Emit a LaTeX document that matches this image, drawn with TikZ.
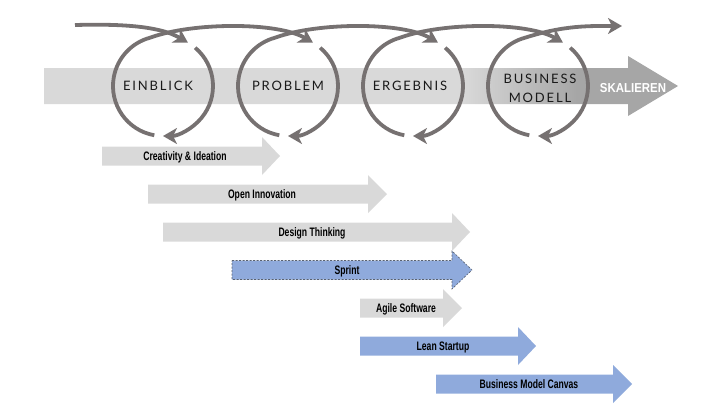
\documentclass[tikz,border=0pt]{standalone}
\usepackage{fontspec}
\setmainfont{Liberation Sans}
\newfontfamily\toplabfont[LetterSpace=14]{Lato}
\newfontfamily\condfont[FakeStretch=0.7]{Liberation Sans}
\newfontfamily\skalfont[FakeStretch=0.88]{Liberation Sans}
\usetikzlibrary{arrows.meta}
\definecolor{lgray}{HTML}{D9D9D9}
\definecolor{dgray}{HTML}{A6A6A6}
\definecolor{ringgray}{HTML}{767171}
\definecolor{mgray}{HTML}{D9D9D9}
\definecolor{mblue}{HTML}{8FAADC}
\definecolor{dashgray}{HTML}{5A6270}
\pgfdeclarehorizontalshading{bigshade}{100bp}{color(0bp)=(lgray); color(58bp)=(lgray); color(67bp)=(dgray); color(100bp)=(dgray)}
\newcommand\methodarrow[5]{%
  \path[#1] ({#2},{#5-9.5}) -- ({#3},{#5-9.5}) -- ({#3},{#5-19}) -- ({#4},{#5})
    -- ({#3},{#5+19}) -- ({#3},{#5+9.5}) -- ({#2},{#5+9.5}) -- cycle;}
\begin{document}
\begin{tikzpicture}[x=1pt,y=-1pt,
  ring/.style={draw=ringgray, line width=3.8pt},
  ringtip/.style={-{Stealth[length=14pt,width=16pt,inset=4pt]}},
  toplab/.style={font=\toplabfont\fontsize{13}{19}\selectfont, text=black!90, align=center, inner sep=0pt},
  skallab/.style={font=\skalfont\bfseries\fontsize{13}{15}\selectfont, text=white, inner sep=0pt},
  mlab/.style={font=\condfont\bfseries\fontsize{12.3}{14}\selectfont, text=black, inner sep=0pt, anchor=base},
  garrow/.style={fill=mgray},
  barrow/.style={fill=mblue},
  sprintarrow/.style={fill=mblue, draw=dashgray, line width=0.6pt, dash pattern=on 2pt off 1.5pt}]
\useasboundingbox (0,0) rectangle (720,405);

% big process arrow
\path[shading=bigshade] (44,68) -- (628,68) -- (628,56) -- (678,86) -- (628,116) -- (628,104) -- (44,104) -- cycle;

% loops
\draw[ring,ringtip] (75,25) .. controls (115,24) and (158,25) .. (188,42.7);
\foreach \cx in {163,288,413,538}{
  \draw[ring,ringtip] ({\cx+50*cos(-50)},{86+50*sin(-50)}) arc[start angle=-50,end angle=90,radius=50];
}
\foreach \cx in {163,288,413}{
  \draw[ring,ringtip] ({\cx+50*cos(100)},{86+50*sin(100)}) arc[start angle=100,end angle=255,radius=50]
    .. controls ({\cx+30},22) and ({\cx+115},22) .. ({\cx+150},42.7);
}
\draw[ring,ringtip] ({538+50*cos(100)},{86+50*sin(100)}) arc[start angle=100,end angle=255,radius=50]
    .. controls (565,25) and (590,26) .. (622,26);

% stage labels
\node[toplab] (einblick) at (158,86) {EINBLICK};
\node[toplab] (problem) at (288,86) {PROBLEM};
\node[toplab] (ergebnis) at (410,86) {ERGEBNIS};
\node[toplab] (bmodell) at (540,88) {BUSINESS\\MODELL};
\node[skallab] (skalieren) at (633,88) {SKALIEREN};

% method arrows
\methodarrow{garrow}{102}{262}{280}{156}
\methodarrow{garrow}{148}{368}{387}{194}
\methodarrow{garrow}{163}{452}{470}{232}
\methodarrow{sprintarrow}{232}{452}{472}{270}
\methodarrow{garrow}{360}{443}{462}{308}
\methodarrow{barrow}{360}{518}{536}{346}
\methodarrow{barrow}{436}{613}{632}{384}

\node[mlab] (ci) at (185,160.6) {Creativity \& Ideation};
\node[mlab] (oi) at (262,198.6) {Open Innovation};
\node[mlab] (dt) at (312,236.6) {Design Thinking};
\node[mlab] (sp) at (347,274.6) {Sprint};
\node[mlab] (as) at (406,312.6) {Agile Software};
\node[mlab] (ls) at (443,350.6) {Lean Startup};
\node[mlab] (bmc) at (529,388.6) {Business Model Canvas};
\end{tikzpicture}
\end{document}
